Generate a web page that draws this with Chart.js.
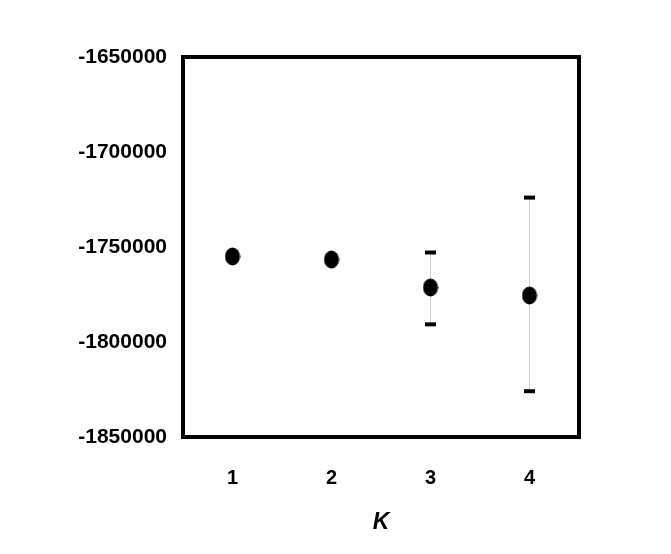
<!DOCTYPE html>
<html>
<head>
<meta charset="utf-8">
<script src="https://cdn.jsdelivr.net/npm/chart.js@4"></script>
<style>
  html, body { margin: 0; padding: 0; background: #fff; }
  #wrap { width: 671px; height: 554px; }
</style>
</head>
<body>
<div id="wrap"><canvas id="myChart"></canvas></div>
<script>
// values
const kValues = [1, 2, 3, 4];
const means = [-1755000, -1756600, -1771300, -1775500];
const errLow = [null, null, -1790700, -1825900];
const errHigh = [null, null, -1752900, -1724000];
const yTicks = [-1850000, -1800000, -1750000, -1700000, -1650000];

// ellipse marker like the original (slightly taller than wide)
const dot = document.createElement('canvas');
dot.width = 16; dot.height = 19;
{
  const c = dot.getContext('2d');
  c.fillStyle = '#000';
  c.beginPath();
  c.ellipse(8, 9.5, 7.5, 9, 0, 0, Math.PI * 2);
  c.fill();
}

const meanPts = kValues.map((k, i) => ({x: k, y: means[i]}));
const whisker = [];
const caps = [];
kValues.forEach((k, i) => {
  if (errLow[i] == null) return;
  whisker.push({x: k, y: errLow[i]}, {x: k, y: errHigh[i]}, {x: k, y: null});
  caps.push({x: k, y: errLow[i]}, {x: k, y: errHigh[i]});
});

const frame = {
  id: 'frame',
  afterDatasetsDraw(chart) {
    const a = chart.chartArea, ctx = chart.ctx;
    ctx.save();
    ctx.strokeStyle = '#000';
    ctx.lineWidth = 4;
    ctx.strokeRect(a.left, a.top, a.right - a.left, a.bottom - a.top);
    ctx.restore();
  }
};

const font = "'Liberation Sans', Arial, sans-serif";
const ctx = document.getElementById('myChart');
const myChart = new Chart(ctx, {
  type: 'scatter',
  data: {
    datasets: [
      {
        data: meanPts,
        pointStyle: dot,
        pointRadius: 8
      },
      {
        data: caps,
        pointStyle: 'line',
        pointRadius: 5.5,
        pointBorderWidth: 4,
        borderColor: '#000',
        backgroundColor: '#000'
      },
      {
        data: whisker,
        showLine: true,
        spanGaps: false,
        borderColor: '#cfcfcf',
        borderWidth: 1,
        pointRadius: 0
      }
    ]
  },
  options: {
    responsive: true,
    maintainAspectRatio: false,
    animation: false,
    layout: { padding: { top: 57, right: 92, bottom: 18, left: 0 } },
    plugins: { legend: { display: false }, tooltip: { enabled: false } },
    scales: {
      x: {
        type: 'linear',
        min: 0.5,
        max: 4.5,
        afterBuildTicks: (s) => { s.ticks = kValues.map(v => ({value: v})); },
        afterFit: (s) => { s.height = 99; },
        grid: { display: false, drawTicks: false },
        border: { display: false },
        ticks: { padding: 29, color: '#000', font: { family: font, size: 20, weight: 'bold' } },
        title: {
          display: true, text: 'K', color: '#000', padding: { top: 10, bottom: 0 },
          font: { family: font, size: 23, weight: 'bold', style: 'italic' }
        }
      },
      y: {
        min: -1850000,
        max: -1650000,
        afterBuildTicks: (s) => { s.ticks = yTicks.map(v => ({value: v})); },
        afterFit: (s) => { s.width = 183; },
        grid: { display: false, drawTicks: false },
        border: { display: false },
        ticks: { padding: 16, color: '#000', font: { family: font, size: 21, weight: 'bold' }, callback: (v) => String(v) }
      }
    }
  },
  plugins: [frame]
});
</script>
</body>
</html>
